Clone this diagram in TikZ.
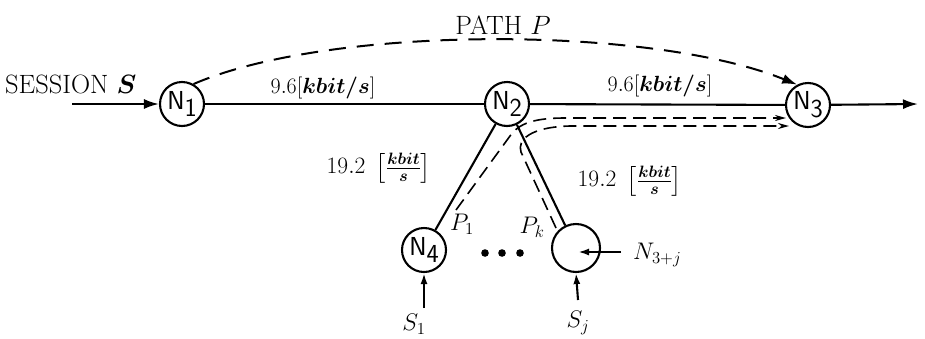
\RequirePackage{fix-cm}
\documentclass[tikz,border=0pt]{standalone}
\usepackage{amsmath,bm}
\usetikzlibrary{arrows.meta}
\begin{document}
\begin{tikzpicture}[x=1pt,y=-1pt]
\tikzset{
  netnode/.style={circle,draw,line width=2.1pt,minimum size=44pt,inner sep=0pt,font=\fontsize{26}{26}\selectfont\sffamily},
  mainline/.style={line width=2.1pt},
  thinpath/.style={line width=1.6pt,dash pattern=on 13pt off 7pt},
  bigpath/.style={line width=2pt,dash pattern=on 17pt off 11pt},
  bigtip/.style={-{Latex[length=15pt,width=10pt]}},
  smalltip/.style={-{Stealth[length=11pt,width=6pt]}},
  lbl/.style={font=\fontsize{22}{26}\selectfont,inner sep=0pt},
  caplbl/.style={font=\fontsize{26.5}{30}\selectfont,inner sep=0pt},
  fraclbl/.style={font=\fontsize{23.5}{28}\selectfont,inner sep=0pt},
  varlbl/.style={font=\fontsize{24}{28}\selectfont,inner sep=0pt}
}
\useasboundingbox (0,0) rectangle (925,338);
% nodes
\node[netnode] (N1) at (182,104) {N\raisebox{-0.3em}{1}};
\node[netnode] (N2) at (507,104) {N\raisebox{-0.3em}{2}};
\node[netnode] (N3) at (808,105) {N\raisebox{-0.3em}{3}};
\node[netnode] (N4) at (424,250) {N\raisebox{-0.3em}{4}};
\node[netnode,minimum size=48pt] (N5) at (576,248) {};
% main line
\coordinate (start) at (72,104);
\coordinate (end) at (918,104);
\draw[mainline,bigtip] (start) -- (N1);
\draw[mainline] (N1) -- (N2);
\draw[mainline] (N2) -- (N3);
\draw[mainline,bigtip] (N3) -- (end);
\draw[mainline] (N2) -- (N4);
\draw[mainline] (N2) -- (N5);
% path P
\draw[bigpath,bigtip] (N1.60) .. controls (330,25) and (650,25) .. (N3.118);
% sub paths
\coordinate (p1a) at (456,210);
\coordinate (p1b) at (510,136);
\coordinate (p1c) at (565,118);
\coordinate (p1d) at (786,118);
\draw[thinpath,smalltip] (p1a) -- (p1b) .. controls (519,123) and (535,118) .. (p1c) -- (p1d);
\coordinate (pka) at (556,228);
\coordinate (pkb) at (521,152);
\coordinate (pkc) at (570,126);
\coordinate (pkd) at (789,126);
\draw[thinpath,smalltip] (pka) -- (pkb) .. controls (517,140) and (530,127) .. (pkc) -- (pkd);
% inputs
\coordinate (s1a) at (424,308);
\coordinate (sja) at (578,300);
\coordinate (nja) at (621,252);
\coordinate (njb) at (578,252);
\draw[mainline,-{Latex[length=11pt,width=7pt]}] (s1a) -- (N4.south);
\draw[mainline,-{Latex[length=11pt,width=7pt]}] (sja) -- (N5.south);
\draw[mainline,-{Latex[length=11pt,width=7pt]}] (nja) -- (njb);
% dots
\fill (485,253) circle (3.8pt);
\fill (502,253) circle (3.8pt);
\fill (520,253) circle (3.8pt);
% labels
\node[caplbl] (lpath) at (503,25) {PATH $P$};
\node[caplbl,anchor=west] (lsess) at (5,84) {SESSION $\bm{S}$};
\node[lbl] (r1) at (323,88) {$9.6[\bm{kbit/s}]$};
\node[lbl] (r2) at (660,86) {$9.6[\bm{kbit/s}]$};
\node[fraclbl] (r3) at (379,168) {$19.2\;\left[\frac{\bm{kbit}}{\bm{s}}\right]$};
\node[fraclbl] (r4) at (630,181) {$19.2\;\left[\frac{\bm{kbit}}{\bm{s}}\right]$};
\node[varlbl] (lp1) at (462,224) {$P_1$};
\node[varlbl] (lpk) at (532,227) {$P_k$};
\node[varlbl,anchor=west] (lnj) at (633,255) {$N_{3+j}$};
\node[varlbl] (ls1) at (414,324) {$S_1$};
\node[varlbl] (lsj) at (578,323) {$S_j$};
\end{tikzpicture}
\end{document}
